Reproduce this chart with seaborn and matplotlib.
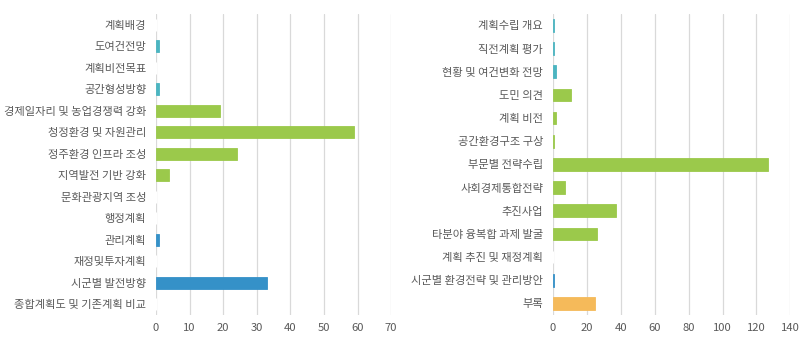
import seaborn as sns
import pandas as pd
import matplotlib.pyplot as plt

# left panel
left_labels = ['계획배경', '도여건전망', '계획비전목표', '공간형성방향', '경제일자리 및 농업경쟁력 강화',
               '청정환경 및 자원관리', '정주환경 인프라 조성', '지역발전 기반 강화', '문화관광지역 조성',
               '행정계획', '관리계획', '재정및투자계획', '시군별 발전방향', '종합계획도 및 기존계획 비교']
left_values = [0, 1, 0, 1, 19, 59, 24, 4, 0, 0, 1, 0, 33, 0]
left_groups = ['a', 'a', 'a', 'a', 'b', 'b', 'b', 'b', 'b', 'c', 'c', 'c', 'c', 'c']

# right panel
right_labels = ['계획수립 개요', '직전계획 평가', '현황 및 여건변화 전망', '도민 의견', '계획 비전',
                '공간환경구조 구상', '부문별 전략수립', '사회경제통합전략', '추진사업',
                '타분야 융복합 과제 발굴', '계획 추진 및 재정계획', '시군별 환경전략 및 관리방안', '부록']
right_values = [1, 1, 2, 11, 2, 1, 127, 7, 37, 26, 0, 1, 25]
right_groups = ['a', 'a', 'a', 'b', 'b', 'b', 'b', 'b', 'b', 'b', 'c', 'c', 'd']

colors = {'a': '#4BB5C1', 'b': '#9BC94B', 'c': '#3591C8', 'd': '#F5BA5A'}

sns.set_style('white')
plt.rcParams['font.family'] = ['Noto Sans CJK KR', 'DejaVu Sans']

fig = plt.figure(figsize=(8, 3.38), dpi=100)
ax1 = fig.add_axes([0.195, 0.068, 0.294, 0.891])
ax2 = fig.add_axes([0.691, 0.068, 0.297, 0.891])

panels = [(ax1, left_labels, left_values, left_groups, 70, 10),
          (ax2, right_labels, right_values, right_groups, 140, 20)]

for ax, labels, values, groups, xmax, step in panels:
    df = pd.DataFrame({'label': labels, 'value': values, 'group': groups})
    sns.barplot(data=df, x='value', y='label', hue='group', palette=colors,
                dodge=False, legend=False, width=0.55, saturation=1, ax=ax)
    # thin bars still need to show up
    for p in ax.patches:
        if p.get_width() > 0:
            p.set_edgecolor(p.get_facecolor())
            p.set_linewidth(0.6)
    ax.set_xlim(0, xmax)
    ax.set_xticks(range(0, xmax + 1, step))
    ax.grid(axis='x', color='#D9D9D9', linewidth=0.9)
    ax.set_axisbelow(True)
    for s in ax.spines.values():
        s.set_visible(False)
    ax.set_xlabel('')
    ax.set_ylabel('')
    ax.tick_params(axis='both', length=0, colors='#595959', labelsize=8.1)
    ax.tick_params(axis='y', pad=7)
    ax.tick_params(axis='x', pad=6)

fig.savefig('out.png', dpi=100)
